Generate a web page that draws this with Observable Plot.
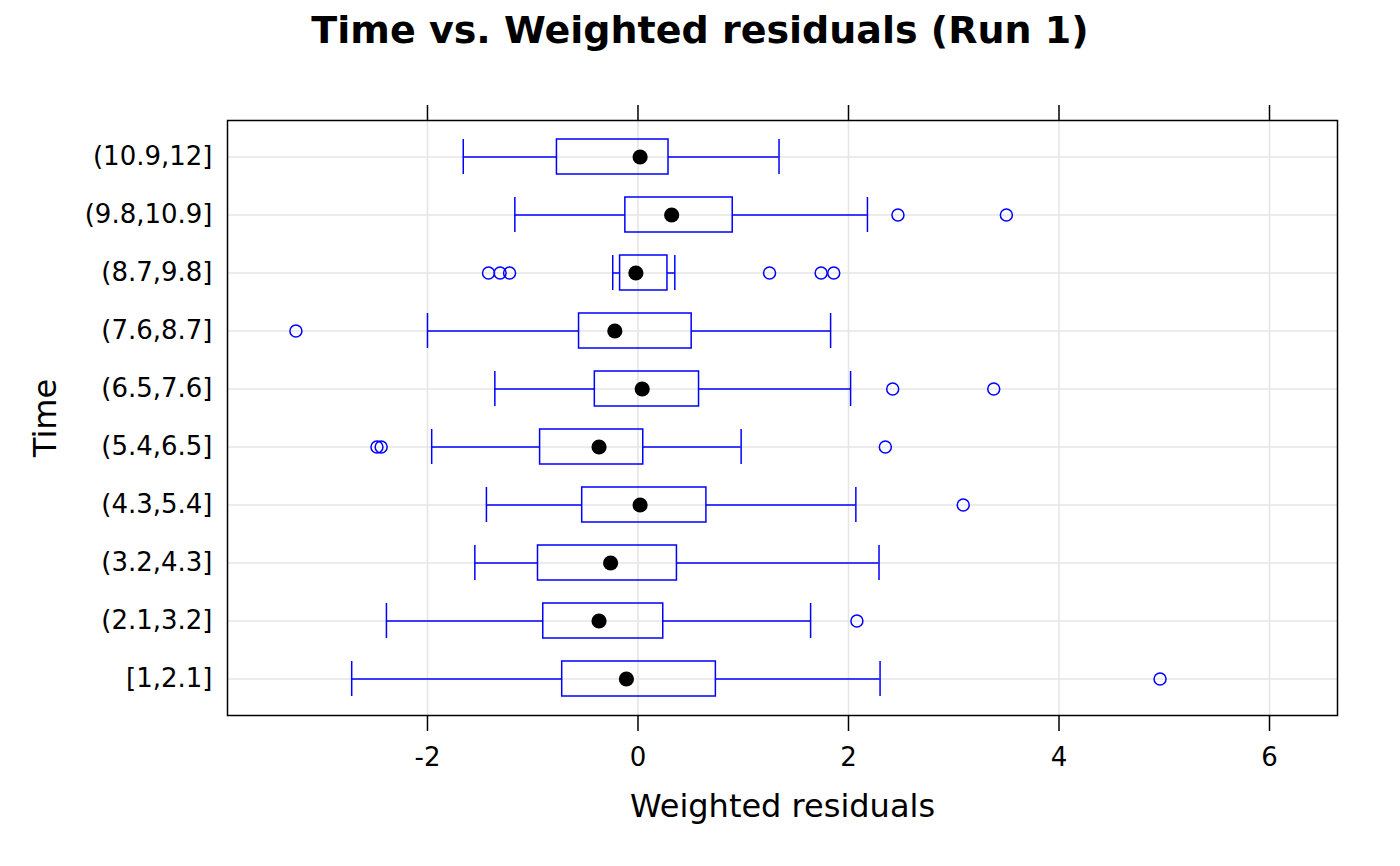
<!DOCTYPE html>
<html>
<head>
<meta charset="utf-8">
<script src="https://cdn.jsdelivr.net/npm/d3@7"></script>
<script src="https://cdn.jsdelivr.net/npm/@observablehq/plot@0.6"></script>
<style>
  html, body { margin: 0; padding: 0; background: #fff; }
  #title { height: 60px; padding-top: 8px; box-sizing: border-box; line-height: 45px; text-align: center; font: bold 38px "DejaVu Sans", sans-serif; color: #000; width: 1400px; overflow: visible; white-space: nowrap; }
</style>
</head>
<body>
<div id="title">Time vs. Weighted residuals (Run 1)</div>
<div id="chart"></div>
<script>
// Categories (bottom to top)
const categories = ["[1,2.1]", "(2.1,3.2]", "(3.2,4.3]", "(4.3,5.4]", "(5.4,6.5]", "(6.5,7.6]", "(7.6,8.7]", "(8.7,9.8]", "(9.8,10.9]", "(10.9,12]"];
const whiskerLow  = [-2.72, -2.39, -1.55, -1.44, -1.96, -1.36, -2.00, -0.24, -1.17, -1.66];
const q1          = [-0.72, -0.90, -0.95, -0.53, -0.93, -0.41, -0.56, -0.17, -0.12, -0.77];
const median      = [-0.11, -0.37, -0.26,  0.02, -0.37,  0.04, -0.22, -0.02,  0.32,  0.02];
const q3          = [ 0.74,  0.24,  0.37,  0.65,  0.05,  0.58,  0.51,  0.28,  0.90,  0.29];
const whiskerHigh = [ 2.30,  1.64,  2.29,  2.07,  0.98,  2.02,  1.83,  0.35,  2.18,  1.34];

const outlierCat = ["[1,2.1]", "(2.1,3.2]", "(4.3,5.4]", "(5.4,6.5]", "(5.4,6.5]", "(5.4,6.5]", "(6.5,7.6]", "(6.5,7.6]", "(7.6,8.7]",
  "(8.7,9.8]", "(8.7,9.8]", "(8.7,9.8]", "(8.7,9.8]", "(8.7,9.8]", "(8.7,9.8]", "(9.8,10.9]", "(9.8,10.9]"];
const outlierVal = [4.96, 2.08, 3.09, -2.48, -2.44, 2.35, 2.42, 3.38, -3.25,
  -1.42, -1.31, -1.22, 1.25, 1.74, 1.86, 2.47, 3.50];

const xTicks = [-2, 0, 2, 4, 6];
const xTitle = "Weighted residuals";
const yTitle = "Time";

const boxes = categories.map((c, i) => ({cat: c, lo: whiskerLow[i], q1: q1[i], med: median[i], q3: q3[i], hi: whiskerHigh[i]}));
const outliers = outlierCat.map((c, i) => ({cat: c, v: outlierVal[i]}));

const blue = "#0000ff";
const grid = "#e6e6e6";

const chart = Plot.plot({
  width: 1400,
  height: 806,
  marginTop: 60,
  marginBottom: 151,
  marginLeft: 227,
  marginRight: 63,
  style: {fontFamily: "DejaVu Sans, sans-serif", fontSize: "26px", background: "#fff", color: "#000"},
  x: {domain: [-3.9, 6.646]},
  y: {type: "band", domain: categories.slice().reverse(), paddingInner: 0.4, paddingOuter: 0.3},
  marks: [
    Plot.ruleX(xTicks, {stroke: grid, strokeWidth: 1.6}),
    Plot.ruleY(categories, {y: d => d, stroke: grid, strokeWidth: 1.6}),
    Plot.ruleY(boxes, {y: "cat", x1: "lo", x2: "q1", stroke: blue, strokeWidth: 1.5}),
    Plot.ruleY(boxes, {y: "cat", x1: "q3", x2: "hi", stroke: blue, strokeWidth: 1.5}),
    Plot.tickX(boxes, {x: "lo", y: "cat", stroke: blue, strokeWidth: 1.5}),
    Plot.tickX(boxes, {x: "hi", y: "cat", stroke: blue, strokeWidth: 1.5}),
    Plot.barX(boxes, {x1: "q1", x2: "q3", y: "cat", fill: "none", stroke: blue, strokeWidth: 1.5}),
    Plot.dot(outliers, {x: "v", y: "cat", r: 6, fill: "none", stroke: blue, strokeWidth: 1.5}),
    Plot.dot(boxes, {x: "med", y: "cat", r: 7.6, fill: "#000", stroke: "none"}),
    Plot.frame({stroke: "#000", strokeWidth: 1.5}),
    Plot.axisX({anchor: "bottom", ticks: xTicks, tickSize: 16, tickPadding: 16, tickFormat: d => String(d), label: null, strokeWidth: 1.5, fontSize: 26}),
    Plot.axisX({anchor: "top", ticks: xTicks, tickSize: 16, tickFormat: () => "", label: null, strokeWidth: 1.5}),
    Plot.axisY({anchor: "left", tickSize: 0, tickPadding: 15, label: null, fontSize: 26}),
    Plot.text([xTitle], {frameAnchor: "bottom", dy: 91, fontSize: 32, lineAnchor: "middle", textAnchor: "middle"}),
    Plot.text([yTitle], {frameAnchor: "left", dx: -182, rotate: -90, fontSize: 32, lineAnchor: "middle", textAnchor: "middle"})
  ]
});
document.getElementById("chart").appendChild(chart);
</script>
</body>
</html>
